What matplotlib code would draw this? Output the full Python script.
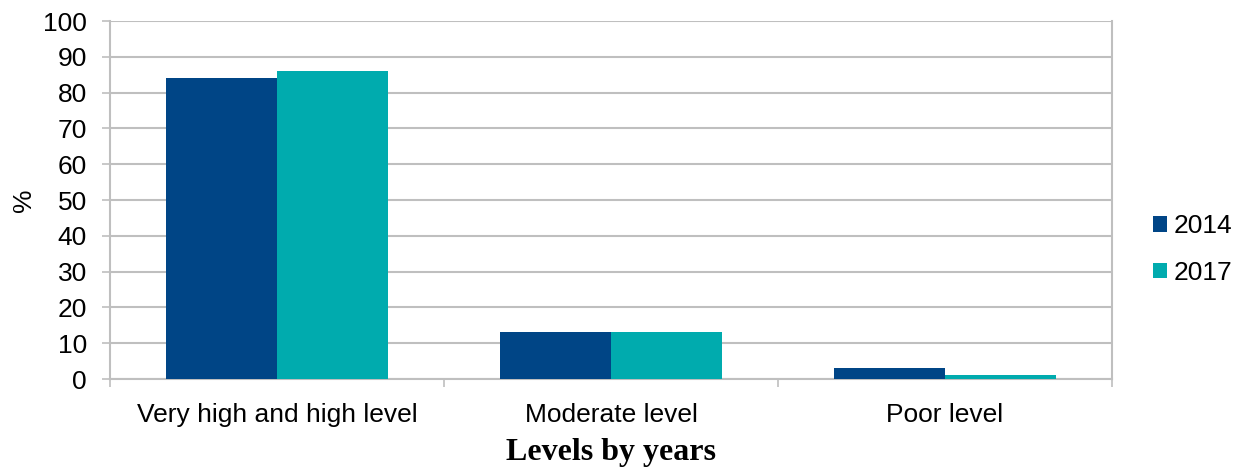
import numpy as np
import matplotlib
matplotlib.use("Agg")
import matplotlib.pyplot as plt

# data
categories = ["Very high and high level", "Moderate level", "Poor level"]
years = ["2014", "2017"]
vals_2014 = [84, 13, 3]
vals_2017 = [86, 13, 1]
colors = ["#004586", "#00ABAE"]

plt.rcParams['font.family'] = ['Liberation Sans', 'DejaVu Sans']

fig = plt.figure(figsize=(12.42, 4.70), dpi=100)
ax = fig.add_axes([0.0886, 0.1936, 0.8067, 0.7617])

x = np.arange(len(categories))
w = 0.332
ax.bar(x - w/2, vals_2014, w, color=colors[0], label=years[0], zorder=3)
ax.bar(x + w/2, vals_2017, w, color=colors[1], label=years[1], zorder=3)

ax.set_xlim(-0.5, len(categories) - 0.5)
ax.set_ylim(0, 100)
ax.set_yticks(range(0, 101, 10))
ax.tick_params(axis='y', labelsize=19, length=5.5, width=1.2, color='#bfbfbf', pad=11)
ax.yaxis.grid(True, color='#bfbfbf', linewidth=1.5, zorder=0)

# category labels, with tick marks at category boundaries
ax.set_xticks(x)
ax.set_xticklabels(categories, fontsize=19)
ax.tick_params(axis='x', length=0, pad=17)
ax.set_xticks(np.arange(-0.5, len(categories), 1), minor=True)
ax.tick_params(axis='x', which='minor', length=6, width=1.2, color='#bfbfbf')

for s in ax.spines.values():
    s.set_color('#bfbfbf')
    s.set_linewidth(1.5)
ax.spines['top'].set_visible(False)

ax.set_ylabel("%", fontsize=19, labelpad=5)
ax.set_xlabel("Levels by years", fontsize=23, fontweight='bold',
              family=['Liberation Serif', 'DejaVu Serif'], labelpad=8)

fig.legend(loc='center left', bbox_to_anchor=(0.9284, 0.4693), frameon=False,
           fontsize=19, handlelength=0.53, handleheight=0.53, handletextpad=0.25,
           labelspacing=0.85, borderpad=0, borderaxespad=0)

fig.savefig("out.png", dpi=100)
